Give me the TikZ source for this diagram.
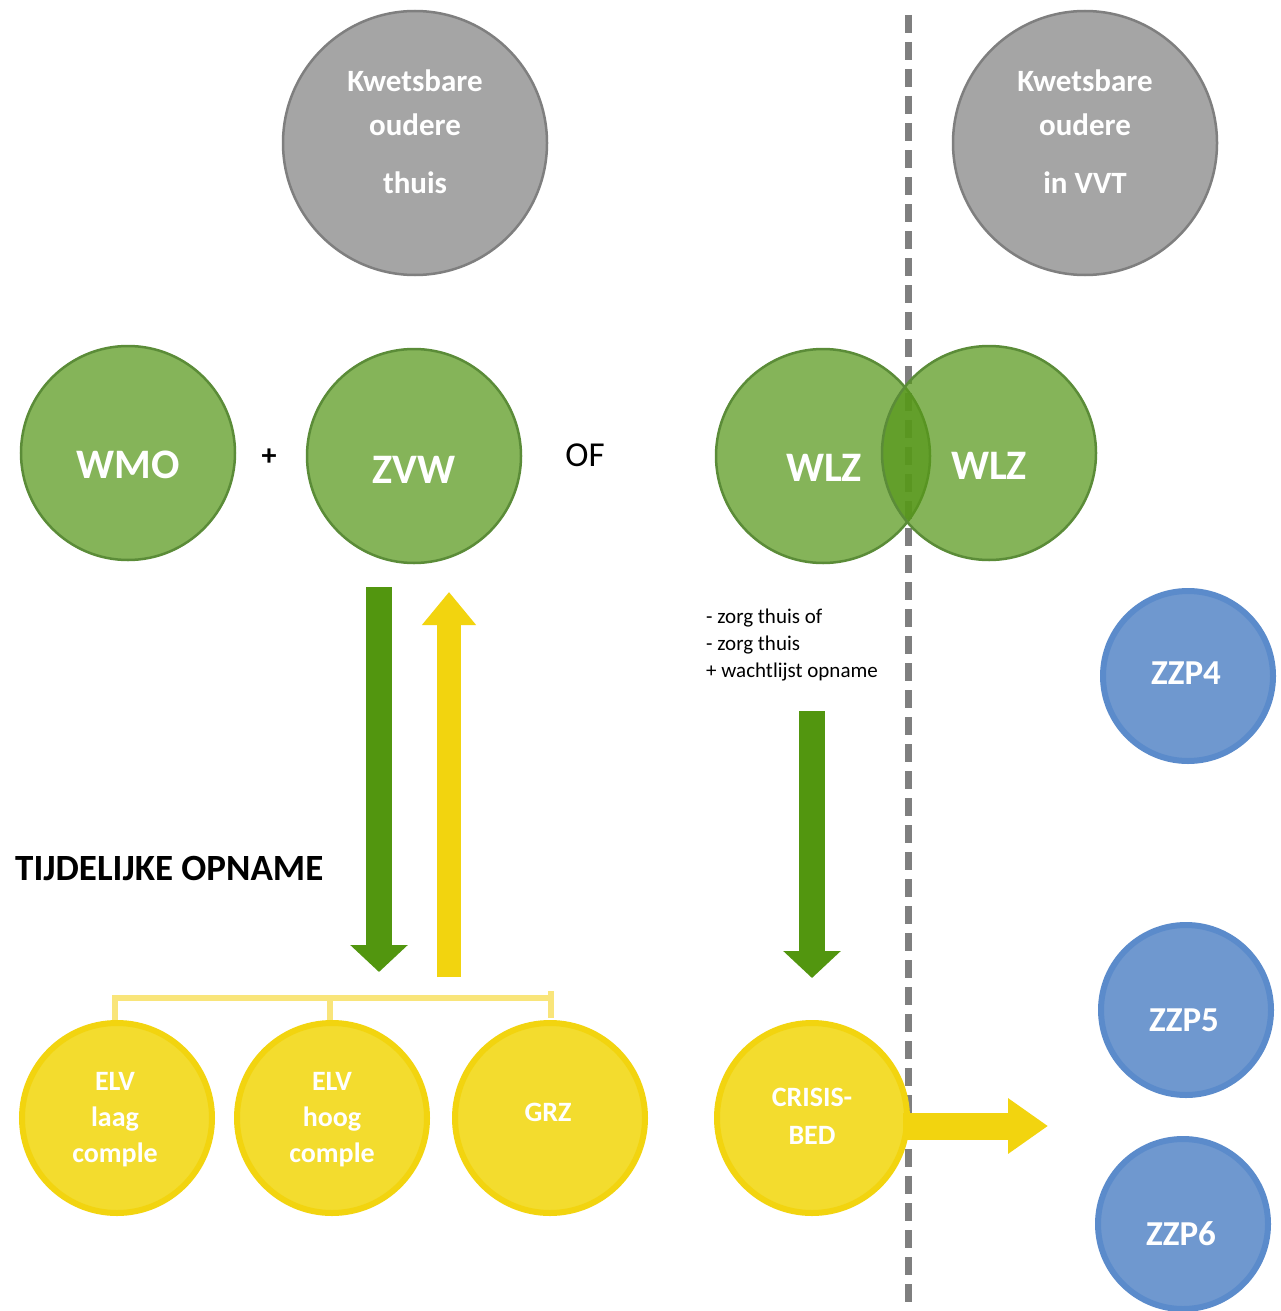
\documentclass[tikz,border=0pt]{standalone}
\usepackage{fontspec}
\setmainfont{Carlito}
\usetikzlibrary{arrows.meta}
\definecolor{grayfill}{HTML}{A5A5A5}
\definecolor{graydraw}{HTML}{7F7F7F}
\definecolor{greenbase}{RGB}{87,152,26}
\definecolor{greendraw}{HTML}{5B8C38}
\definecolor{arrowgreen}{HTML}{52960F}
\definecolor{yelfill}{HTML}{F3DC2E}
\definecolor{yeldraw}{HTML}{F2D40F}
\definecolor{yelarrow}{HTML}{F2D40F}
\definecolor{yelline}{HTML}{F9E57A}
\definecolor{bluefill}{HTML}{6F98CF}
\definecolor{bluedraw}{HTML}{5B8BCB}
\definecolor{dashgray}{HTML}{7F7F7F}
\begin{document}
\begin{tikzpicture}[x=1pt,y=-1pt,
  graycirc/.style={circle, fill=grayfill, draw=graydraw, line width=2.5pt, minimum size=264pt, inner sep=0pt},
  greencirc/.style={circle, fill=greenbase, fill opacity=0.72, draw=greendraw, draw opacity=1, line width=2.5pt, minimum size=214pt, inner sep=0pt},
  yelcirc/.style={circle, fill=yelfill, draw=yeldraw, line width=6pt, minimum size=190pt, inner sep=0pt},
  bluecirc/.style={circle, fill=bluefill, draw=bluedraw, line width=6pt, minimum size=170pt, inner sep=0pt},
  graytxt/.style={text=white, inner sep=0pt, font=\bfseries\fontsize{31}{37}\selectfont},
  greentxt/.style={text=white, inner sep=0pt, font=\bfseries\fontsize{42}{48}\selectfont},
  yeltxt/.style={text=white, inner sep=0pt, font=\bfseries\fontsize{28}{32}\selectfont},
  bluetxt/.style={text=white, inner sep=0pt, font=\bfseries\fontsize{35}{40}\selectfont},
  smalltxt/.style={text=black, inner sep=0pt, anchor=base west, font=\fontsize{21}{25}\selectfont},
  dashline/.style={draw=dashgray, line width=7pt, dash pattern=on 18pt off 9pt},
  bracket/.style={draw=yelline, line width=6pt},
  blockgreen/.style={draw=arrowgreen, line width=26pt, -{Triangle[width=56pt,length=27pt]}},
  blockyellow/.style={draw=yelarrow, line width=#1, -{Triangle[width=52pt,length=33pt]}},
]
\fill[white] (0,0) rectangle (1281,1311);
\useasboundingbox (0,0) rectangle (1281,1311);

% dashed separator
\coordinate (dtop) at (908,15);
\coordinate (dbot) at (908,1311);
\draw[dashline] (dtop) -- (dbot);

% gray circles
\node[graycirc] (g1) at (415,143) {};
\node[graytxt] (g1a) at (415,81) {Kwetsbare};
\node[graytxt] (g1b) at (415,125) {oudere};
\node[graytxt] (g1c) at (415,183) {thuis};
\node[graycirc] (g2) at (1085,143) {};
\node[graytxt] (g2a) at (1085,81) {Kwetsbare};
\node[graytxt] (g2b) at (1085,125) {oudere};
\node[graytxt] (g2c) at (1085,183) {in VVT};

% green circles
\node[greencirc] (wmo) at (128,453) {};
\node[greentxt] (wmot) at (128,465) {WMO};
\node[text=black, inner sep=0pt, font=\bfseries\fontsize{30}{36}\selectfont] (plus) at (269,457) {+};
\node[greencirc] (zvw) at (414,456) {};
\node[greentxt] (zvwt) at (414,470) {ZVW};
\node[text=black, inner sep=0pt, font=\fontsize{35}{40}\selectfont] (of) at (585,455) {OF};
\node[greencirc] (wlz1) at (823,456) {};
\node[greencirc] (wlz2) at (989,453) {};
\node[greentxt] (wlz1t) at (824,468) {WLZ};
\node[greentxt] (wlz2t) at (989,466) {WLZ};

% small text
\node[smalltxt] (s1) at (706,623) {- zorg thuis of};
\node[smalltxt] (s2) at (706,650) {- zorg thuis};
\node[smalltxt] (s3) at (706,677) {+ wachtlijst opname};

% title
\node[text=black, inner sep=0pt, anchor=base west, font=\bfseries\fontsize{37}{42}\selectfont] (title) at (15,880) {TIJDELIJKE OPNAME};

% block arrows
\coordinate (ga1) at (379,587);
\coordinate (gb1) at (379,972);
\draw[blockgreen] (ga1) -- (gb1);
\coordinate (ya1) at (449,977);
\coordinate (yb1) at (449,592);
\draw[blockyellow=24pt] (ya1) -- (yb1);
\coordinate (ga2) at (812,711);
\coordinate (gb2) at (812,978);
\draw[blockgreen] (ga2) -- (gb2);

% bracket
\coordinate (br1) at (115,1022);
\coordinate (br1t) at (115,998);
\coordinate (br3t) at (551,998);
\coordinate (br2t) at (330,998);
\coordinate (br2) at (330,1020);
\coordinate (br3a) at (551,991);
\coordinate (br3) at (551,1018);
\draw[bracket] (br1) -- (br1t) -- (br3t);
\draw[bracket] (br2t) -- (br2);
\draw[bracket] (br3a) -- (br3);

% yellow circles
\node[yelcirc] (elv1) at (117,1118) {};
\node[yeltxt] at (115,1081) {ELV};
\node[yeltxt] at (115,1119) {laag};
\node[yeltxt] at (115,1155) {comple};
\node[yelcirc] (elv2) at (332,1118) {};
\node[yeltxt] at (332,1081) {ELV};
\node[yeltxt] at (332,1119) {hoog};
\node[yeltxt] at (332,1155) {comple};
\node[yelcirc] (grz) at (550,1118) {};
\node[yeltxt] at (548,1112) {GRZ};
\node[yelcirc] (crisis) at (812,1118) {};
\node[yeltxt] at (812,1097) {CRISIS-};
\node[yeltxt] at (812,1135) {BED};

% crisis arrow
\coordinate (ya2) at (903,1126);
\coordinate (yb2) at (1048,1126);
\draw[draw=yelarrow, line width=27pt, -{Triangle[width=53pt,length=40pt]}] (ya2) -- (yb2);

% blue circles
\node[bluecirc] (zzp4) at (1188,676) {};
\node[bluetxt] at (1186,673) {ZZP4};
\node[bluecirc] (zzp5) at (1186,1010) {};
\node[bluetxt] at (1184,1020) {ZZP5};
\node[bluecirc] (zzp6) at (1183,1224) {};
\node[bluetxt] at (1181,1234) {ZZP6};
\end{tikzpicture}
\end{document}
